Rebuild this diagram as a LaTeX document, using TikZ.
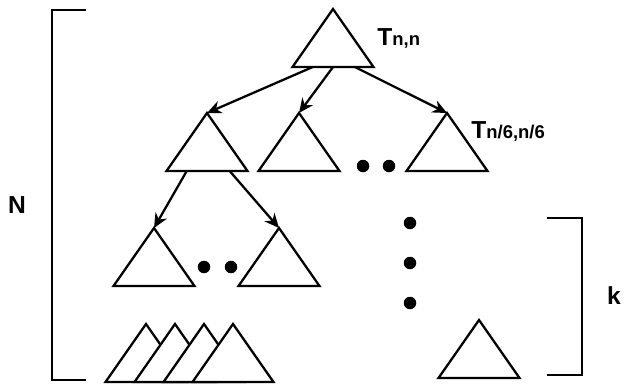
\documentclass[tikz,border=0pt]{standalone}
\usepackage{fontspec}
\setmainfont{Liberation Sans}
\usetikzlibrary{arrows.meta,calc,shapes.geometric}

\newcommand{\tname}[1]{T{\fontsize{10.5}{12}\selectfont #1}}

\begin{document}
\begin{tikzpicture}[x=0.02cm,y=-0.02cm,
  tri/.style={draw,fill=white,line width=1.3pt,isosceles triangle,isosceles triangle stretches,shape border rotate=90,minimum width=1.62cm,minimum height=1.16cm,inner sep=0pt,outer sep=0pt,anchor=apex},
  dotnode/.style={circle,fill=black,inner sep=0pt,minimum size=0.25cm},
  arrowline/.style={line width=1.3pt,-{Stealth[length=2.9mm,width=2.6mm]}},
  brack/.style={line width=1.3pt},
  lbl/.style={font=\bfseries\fontsize{14}{16}\selectfont,inner sep=0pt}]
\useasboundingbox (0,0) rectangle (624,383);
% tree
\node[tri] (t0) at (333,9) {};
\node[tri] (t1) at (207,113) {};
\node[tri] (t2) at (299,113) {};
\node[tri] (t3) at (447,113) {};
\node[tri] (t4) at (154,228) {};
\node[tri] (t5) at (279,228) {};
\node[tri] (t6) at (479,320) {};
\draw[arrowline] ($(t0.left corner)!0.25!(t0.right corner)$) -- (t1.apex);
\draw[arrowline] ($(t0.left corner)!0.5!(t0.right corner)$) -- (t2.apex);
\draw[arrowline] ($(t0.left corner)!0.77!(t0.right corner)$) -- (t3.apex);
\draw[arrowline] ($(t1.left corner)!0.25!(t1.right corner)$) -- (t4.apex);
\draw[arrowline] ($(t1.left corner)!0.78!(t1.right corner)$) -- (t5.apex);
% leaves
\node[tri] (b1) at (146,324) {};
\node[tri] (b2) at (175,324) {};
\node[tri] (b3) at (204,324) {};
\node[tri] (b4) at (233,324) {};
% dots
\node[dotnode] (d1) at (363,166) {};
\node[dotnode] (d2) at (389,166) {};
\node[dotnode] (d3) at (204,267) {};
\node[dotnode] (d4) at (231,267) {};
\node[dotnode] (d5) at (410,223) {};
\node[dotnode] (d6) at (410,263) {};
\node[dotnode] (d7) at (410,303) {};
% labels
\node[lbl,anchor=base west] (lt0) at (377,45) {\tname{n,n}};
\node[lbl,anchor=base west] (lt3) at (471,138) {\tname{n/6,n/6}};
\node[lbl] (ln) at (17,205) {N};
\node[lbl,anchor=base] (lk) at (614,304) {k};
% brackets
\draw[brack] (86,10) -- (52,10) -- (52,380) -- (86,380);
\draw[brack] (547,218) -- (582,218) -- (582,375) -- (547,375);
\end{tikzpicture}
\end{document}
